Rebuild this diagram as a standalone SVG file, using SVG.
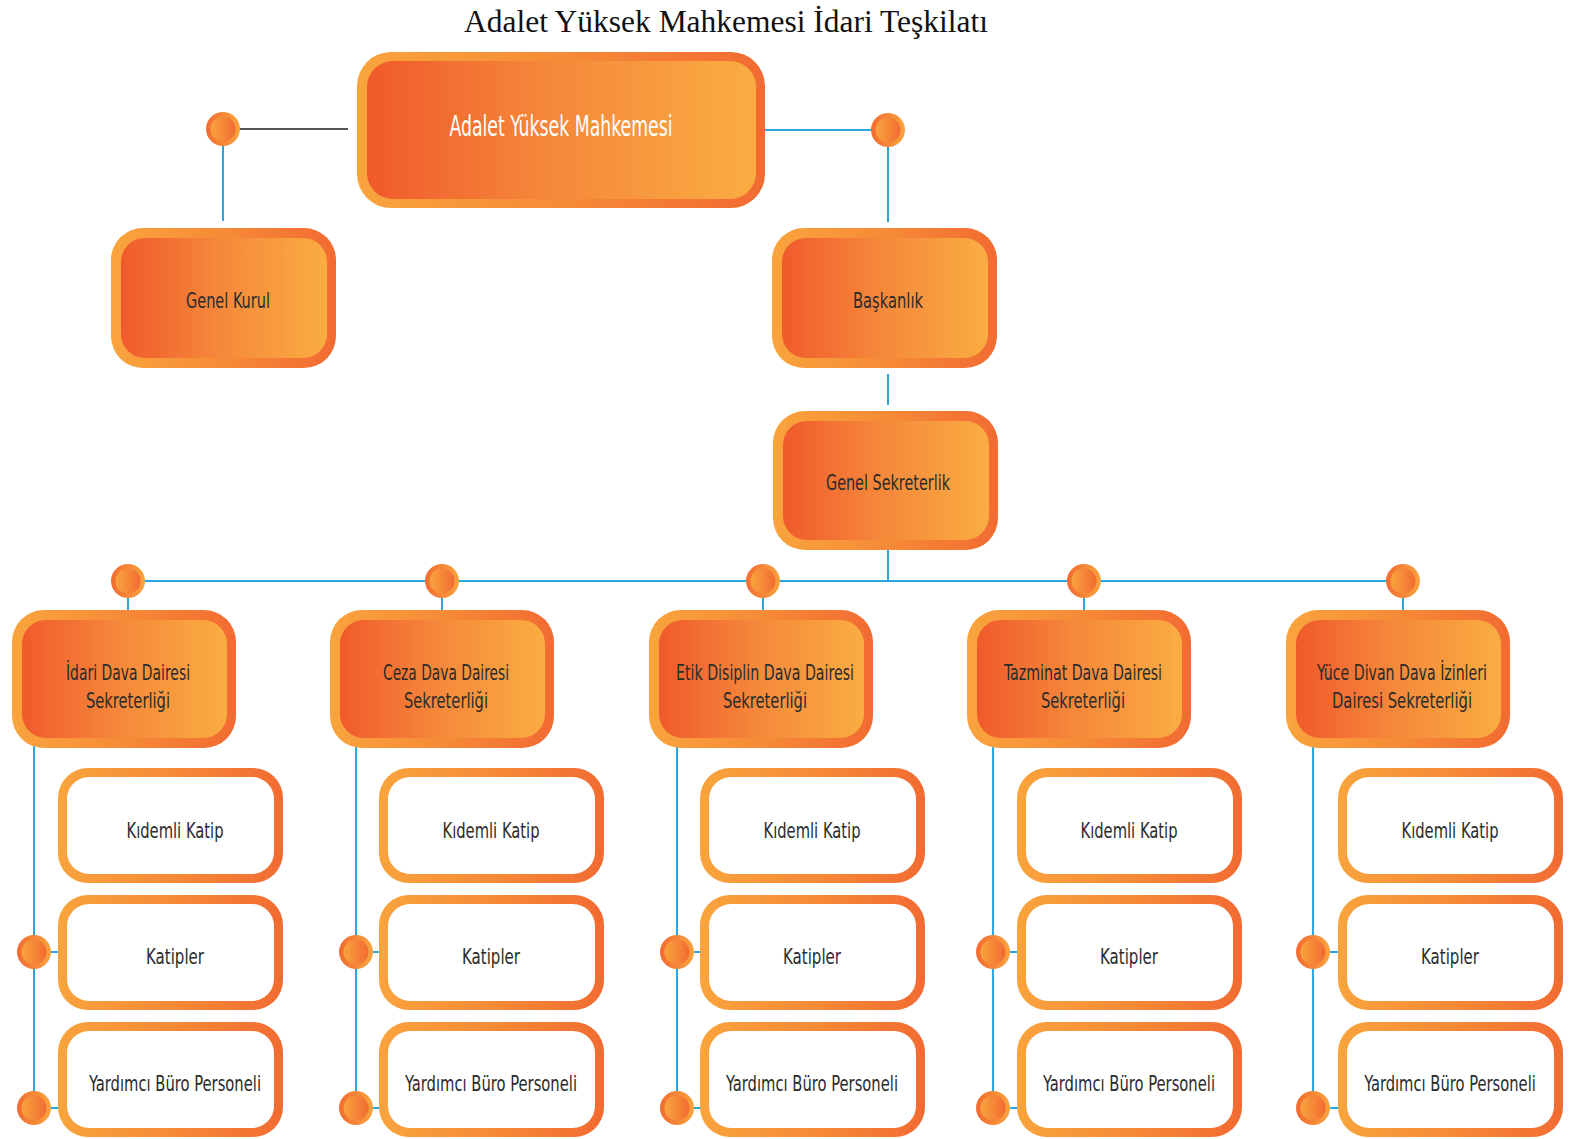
<svg xmlns="http://www.w3.org/2000/svg" width="1572" height="1139" viewBox="0 0 1572 1139">
<defs>
<linearGradient id="gBorder" x1="0" y1="0" x2="1" y2="0">
<stop offset="0" stop-color="#F9A43D"/><stop offset="0.5" stop-color="#F68B37"/><stop offset="1" stop-color="#F26B32"/>
</linearGradient>
<linearGradient id="gFill" x1="0" y1="0" x2="1" y2="0">
<stop offset="0" stop-color="#F05A2B"/><stop offset="0.45" stop-color="#F5863A"/><stop offset="1" stop-color="#FAAD42"/>
</linearGradient>
<linearGradient id="gDotOut" x1="0" y1="0" x2="1" y2="0">
<stop offset="0" stop-color="#F26B32"/><stop offset="1" stop-color="#F9A43D"/>
</linearGradient>
<linearGradient id="gDotIn" x1="0" y1="0" x2="1" y2="0">
<stop offset="0" stop-color="#F9A43D"/><stop offset="1" stop-color="#F26B32"/>
</linearGradient>
<g id="dot"><circle r="17" fill="url(#gDotOut)"/><circle r="12.5" fill="url(#gDotIn)"/></g>
</defs>
<style>
.blue{stroke:#29A8E0;stroke-width:2;fill:none}
.gray{stroke:#555555;stroke-width:2;fill:none}
.ob{fill:url(#gBorder)}
.oi{fill:url(#gFill)}
.wi{fill:#FFFFFF}
.t{font-family:"Liberation Sans Narrow","DejaVu Sans Condensed","Liberation Sans",sans-serif;font-size:22px;fill:#2B2B2B;text-anchor:middle}
.tw{font-family:"Liberation Sans Narrow","DejaVu Sans Condensed","Liberation Sans",sans-serif;font-size:28px;fill:#FFFFFF;text-anchor:middle}
.title{font-family:"Liberation Serif","Times New Roman",serif;font-size:32px;fill:#111111;text-anchor:middle}
</style>
<rect width="1572" height="1139" fill="#FFFFFF"/>
<text class="title" x="726" y="32" textLength="524" lengthAdjust="spacingAndGlyphs">Adalet Yüksek Mahkemesi İdari Teşkilatı</text>

<g id="connectors">
<line class="gray" x1="223" y1="129" x2="348" y2="129"/>
<line class="blue" x1="223" y1="129" x2="223" y2="221"/>
<line class="blue" x1="765" y1="130" x2="888" y2="130"/>
<line class="blue" x1="888" y1="130" x2="888" y2="222"/>
<line class="blue" x1="888" y1="374" x2="888" y2="405"/>
<line class="blue" x1="888" y1="550" x2="888" y2="581"/>
<line class="blue" x1="128" y1="581" x2="1403" y2="581"/>
<line class="blue" x1="128" y1="581" x2="128" y2="611"/>
<line class="blue" x1="442" y1="581" x2="442" y2="611"/>
<line class="blue" x1="763" y1="581" x2="763" y2="611"/>
<line class="blue" x1="1084" y1="581" x2="1084" y2="611"/>
<line class="blue" x1="1403" y1="581" x2="1403" y2="611"/>
<line class="blue" x1="34" y1="746" x2="34" y2="1108"/>
<line class="blue" x1="34" y1="952" x2="60" y2="952"/>
<line class="blue" x1="34" y1="1108" x2="60" y2="1108"/>
<line class="blue" x1="356" y1="746" x2="356" y2="1108"/>
<line class="blue" x1="356" y1="952" x2="381" y2="952"/>
<line class="blue" x1="356" y1="1108" x2="381" y2="1108"/>
<line class="blue" x1="677" y1="746" x2="677" y2="1108"/>
<line class="blue" x1="677" y1="952" x2="702" y2="952"/>
<line class="blue" x1="677" y1="1108" x2="702" y2="1108"/>
<line class="blue" x1="993" y1="746" x2="993" y2="1108"/>
<line class="blue" x1="993" y1="952" x2="1019" y2="952"/>
<line class="blue" x1="993" y1="1108" x2="1019" y2="1108"/>
<line class="blue" x1="1313" y1="746" x2="1313" y2="1108"/>
<line class="blue" x1="1313" y1="952" x2="1340" y2="952"/>
<line class="blue" x1="1313" y1="1108" x2="1340" y2="1108"/>
<use href="#dot" x="223" y="129"/>
<use href="#dot" x="888" y="130"/>
<use href="#dot" x="128" y="581"/>
<use href="#dot" x="442" y="581"/>
<use href="#dot" x="763" y="581"/>
<use href="#dot" x="1084" y="581"/>
<use href="#dot" x="1403" y="581"/>
<use href="#dot" x="34" y="952"/><use href="#dot" x="34" y="1108"/>
<use href="#dot" x="356" y="952"/><use href="#dot" x="356" y="1108"/>
<use href="#dot" x="677" y="952"/><use href="#dot" x="677" y="1108"/>
<use href="#dot" x="993" y="952"/><use href="#dot" x="993" y="1108"/>
<use href="#dot" x="1313" y="952"/><use href="#dot" x="1313" y="1108"/>
</g>

<g id="node-main">
<rect class="ob" x="357" y="52" width="408" height="156" rx="34"/>
<rect class="oi" x="367" y="61" width="389" height="138" rx="26"/>
<text class="tw" x="561" y="136" textLength="223" lengthAdjust="spacingAndGlyphs">Adalet Yüksek Mahkemesi</text>
</g>
<g id="node-genel-kurul">
<rect class="ob" x="111" y="228" width="225" height="140" rx="32"/>
<rect class="oi" x="121" y="238" width="206" height="120" rx="24"/>
<text class="t" x="228" y="308" textLength="84" lengthAdjust="spacingAndGlyphs">Genel Kurul</text>
</g>
<g id="node-baskanlik">
<rect class="ob" x="772" y="228" width="225" height="140" rx="32"/>
<rect class="oi" x="782" y="238" width="206" height="120" rx="24"/>
<text class="t" x="888" y="308" textLength="70" lengthAdjust="spacingAndGlyphs">Başkanlık</text>
</g>
<g id="node-genel-sekreterlik">
<rect class="ob" x="773" y="411" width="225" height="139" rx="32"/>
<rect class="oi" x="783" y="421" width="206" height="119" rx="24"/>
<text class="t" x="888" y="490" textLength="124" lengthAdjust="spacingAndGlyphs">Genel Sekreterlik</text>
</g>

<g id="node-idari">
<rect class="ob" x="12" y="610" width="224" height="138" rx="32"/>
<rect class="oi" x="22" y="620" width="205" height="118" rx="24"/>
<text class="t" x="128" y="680" textLength="124" lengthAdjust="spacingAndGlyphs">İdari Dava Dairesi</text>
<text class="t" x="128" y="708" textLength="84" lengthAdjust="spacingAndGlyphs">Sekreterliği</text>
</g>
<g id="node-ceza">
<rect class="ob" x="330" y="610" width="224" height="138" rx="32"/>
<rect class="oi" x="340" y="620" width="205" height="118" rx="24"/>
<text class="t" x="446" y="680" textLength="126" lengthAdjust="spacingAndGlyphs">Ceza Dava Dairesi</text>
<text class="t" x="446" y="708" textLength="84" lengthAdjust="spacingAndGlyphs">Sekreterliği</text>
</g>
<g id="node-etik">
<rect class="ob" x="649" y="610" width="224" height="138" rx="32"/>
<rect class="oi" x="659" y="620" width="205" height="118" rx="24"/>
<text class="t" x="765" y="680" textLength="178" lengthAdjust="spacingAndGlyphs">Etik Disiplin Dava Dairesi</text>
<text class="t" x="765" y="708" textLength="84" lengthAdjust="spacingAndGlyphs">Sekreterliği</text>
</g>
<g id="node-tazminat">
<rect class="ob" x="967" y="610" width="224" height="138" rx="32"/>
<rect class="oi" x="977" y="620" width="205" height="118" rx="24"/>
<text class="t" x="1083" y="680" textLength="158" lengthAdjust="spacingAndGlyphs">Tazminat Dava Dairesi</text>
<text class="t" x="1083" y="708" textLength="84" lengthAdjust="spacingAndGlyphs">Sekreterliği</text>
</g>
<g id="node-yuce">
<rect class="ob" x="1286" y="610" width="224" height="138" rx="32"/>
<rect class="oi" x="1296" y="620" width="205" height="118" rx="24"/>
<text class="t" x="1402" y="680" textLength="170" lengthAdjust="spacingAndGlyphs">Yüce Divan Dava İzinleri</text>
<text class="t" x="1402" y="708" textLength="140" lengthAdjust="spacingAndGlyphs">Dairesi Sekreterliği</text>
</g>

<g id="col1">
<g id="n-kidemli-1"><rect class="ob" x="58" y="768" width="225" height="115" rx="30"/><rect class="wi" x="67" y="777" width="207" height="97" rx="22"/><text class="t" x="175" y="838" textLength="97" lengthAdjust="spacingAndGlyphs">Kıdemli Katip</text></g>
<g id="n-katipler-1"><rect class="ob" x="58" y="895" width="225" height="115" rx="30"/><rect class="wi" x="67" y="904" width="207" height="97" rx="22"/><text class="t" x="175" y="964" textLength="58" lengthAdjust="spacingAndGlyphs">Katipler</text></g>
<g id="n-yardimci-1"><rect class="ob" x="58" y="1022" width="225" height="115" rx="30"/><rect class="wi" x="67" y="1031" width="207" height="97" rx="22"/><text class="t" x="175" y="1091" textLength="172" lengthAdjust="spacingAndGlyphs">Yardımcı Büro Personeli</text></g>
</g>
<g id="col2">
<g id="n-kidemli-2"><rect class="ob" x="379" y="768" width="225" height="115" rx="30"/><rect class="wi" x="388" y="777" width="207" height="97" rx="22"/><text class="t" x="491" y="838" textLength="97" lengthAdjust="spacingAndGlyphs">Kıdemli Katip</text></g>
<g id="n-katipler-2"><rect class="ob" x="379" y="895" width="225" height="115" rx="30"/><rect class="wi" x="388" y="904" width="207" height="97" rx="22"/><text class="t" x="491" y="964" textLength="58" lengthAdjust="spacingAndGlyphs">Katipler</text></g>
<g id="n-yardimci-2"><rect class="ob" x="379" y="1022" width="225" height="115" rx="30"/><rect class="wi" x="388" y="1031" width="207" height="97" rx="22"/><text class="t" x="491" y="1091" textLength="172" lengthAdjust="spacingAndGlyphs">Yardımcı Büro Personeli</text></g>
</g>
<g id="col3">
<g id="n-kidemli-3"><rect class="ob" x="700" y="768" width="225" height="115" rx="30"/><rect class="wi" x="709" y="777" width="207" height="97" rx="22"/><text class="t" x="812" y="838" textLength="97" lengthAdjust="spacingAndGlyphs">Kıdemli Katip</text></g>
<g id="n-katipler-3"><rect class="ob" x="700" y="895" width="225" height="115" rx="30"/><rect class="wi" x="709" y="904" width="207" height="97" rx="22"/><text class="t" x="812" y="964" textLength="58" lengthAdjust="spacingAndGlyphs">Katipler</text></g>
<g id="n-yardimci-3"><rect class="ob" x="700" y="1022" width="225" height="115" rx="30"/><rect class="wi" x="709" y="1031" width="207" height="97" rx="22"/><text class="t" x="812" y="1091" textLength="172" lengthAdjust="spacingAndGlyphs">Yardımcı Büro Personeli</text></g>
</g>
<g id="col4">
<g id="n-kidemli-4"><rect class="ob" x="1017" y="768" width="225" height="115" rx="30"/><rect class="wi" x="1026" y="777" width="207" height="97" rx="22"/><text class="t" x="1129" y="838" textLength="97" lengthAdjust="spacingAndGlyphs">Kıdemli Katip</text></g>
<g id="n-katipler-4"><rect class="ob" x="1017" y="895" width="225" height="115" rx="30"/><rect class="wi" x="1026" y="904" width="207" height="97" rx="22"/><text class="t" x="1129" y="964" textLength="58" lengthAdjust="spacingAndGlyphs">Katipler</text></g>
<g id="n-yardimci-4"><rect class="ob" x="1017" y="1022" width="225" height="115" rx="30"/><rect class="wi" x="1026" y="1031" width="207" height="97" rx="22"/><text class="t" x="1129" y="1091" textLength="172" lengthAdjust="spacingAndGlyphs">Yardımcı Büro Personeli</text></g>
</g>
<g id="col5">
<g id="n-kidemli-5"><rect class="ob" x="1338" y="768" width="225" height="115" rx="30"/><rect class="wi" x="1347" y="777" width="207" height="97" rx="22"/><text class="t" x="1450" y="838" textLength="97" lengthAdjust="spacingAndGlyphs">Kıdemli Katip</text></g>
<g id="n-katipler-5"><rect class="ob" x="1338" y="895" width="225" height="115" rx="30"/><rect class="wi" x="1347" y="904" width="207" height="97" rx="22"/><text class="t" x="1450" y="964" textLength="58" lengthAdjust="spacingAndGlyphs">Katipler</text></g>
<g id="n-yardimci-5"><rect class="ob" x="1338" y="1022" width="225" height="115" rx="30"/><rect class="wi" x="1347" y="1031" width="207" height="97" rx="22"/><text class="t" transform="translate(1450 1091) scale(0.62 1)" x="0" y="0" textLength="277" lengthAdjust="spacingAndGlyphs">Yardımcı Büro Personeli</text></g>
</g>
</svg>
